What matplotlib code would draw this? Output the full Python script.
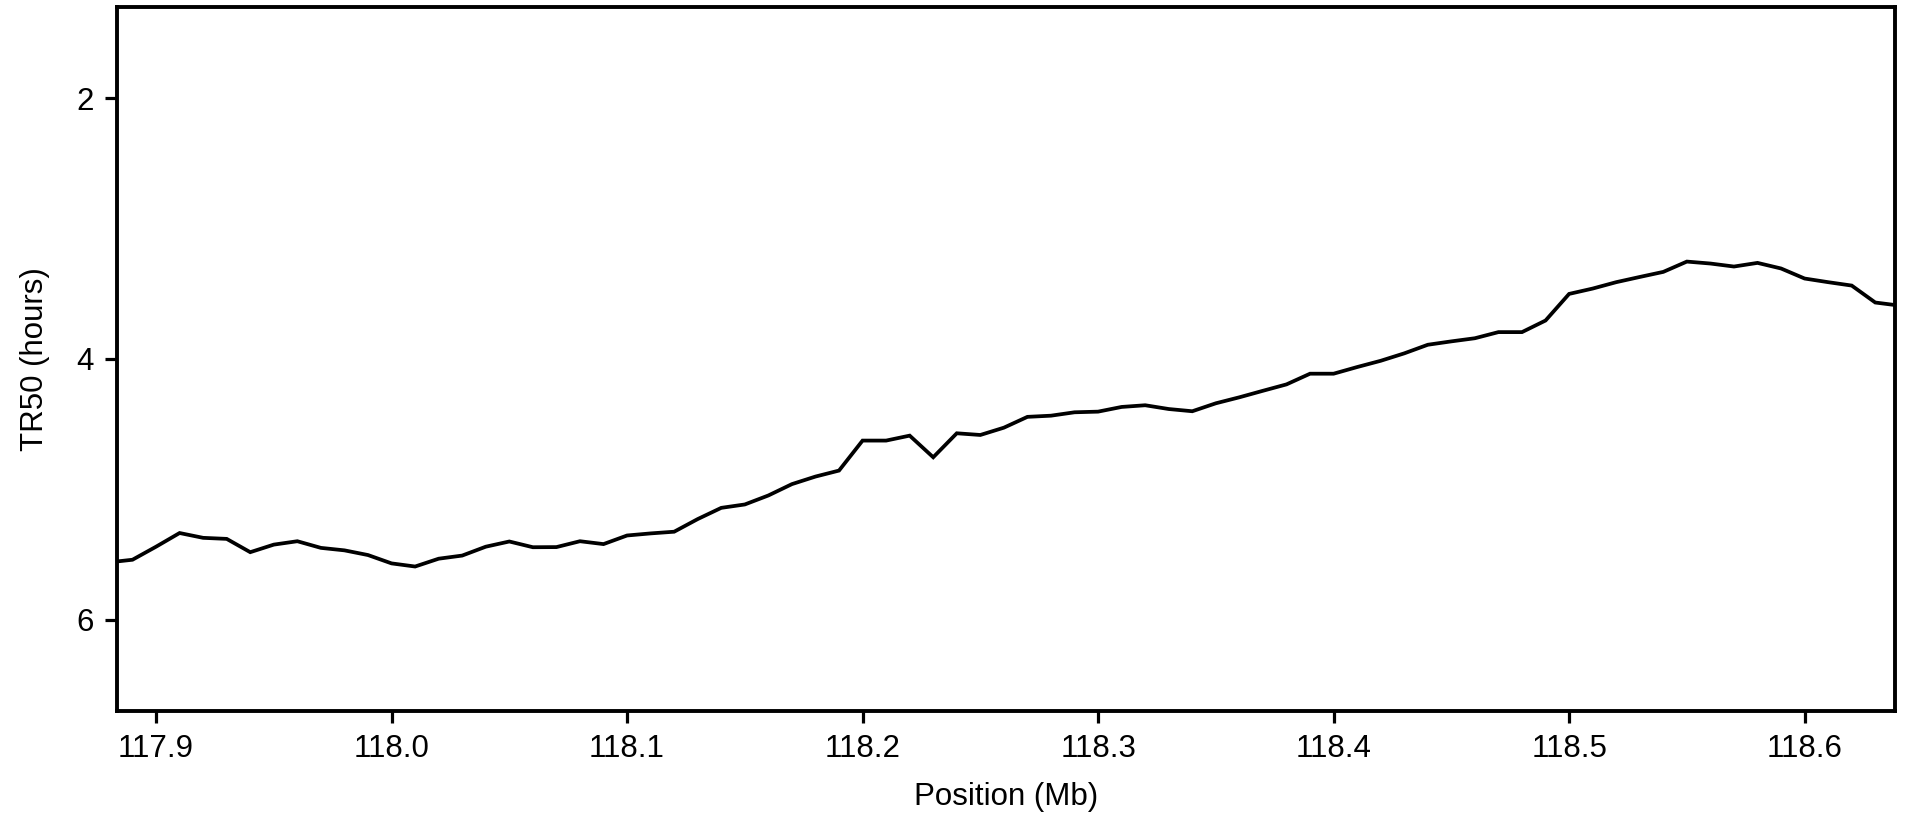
import matplotlib
matplotlib.use("Agg")
import matplotlib.pyplot as plt

plt.rcParams['font.family'] = ['Liberation Sans', 'DejaVu Sans']

# position along the chromosome (Mb)
position = [117.88, 117.89, 117.90, 117.91, 117.92, 117.93, 117.94, 117.95,
            117.96, 117.97, 117.98, 117.99, 118.00, 118.01, 118.02, 118.03,
            118.04, 118.05, 118.06, 118.07, 118.08, 118.09, 118.10, 118.11,
            118.12, 118.13, 118.14, 118.15, 118.16, 118.17, 118.18, 118.19,
            118.20, 118.21, 118.22, 118.23, 118.24, 118.25, 118.26, 118.27,
            118.28, 118.29, 118.30, 118.31, 118.32, 118.33, 118.34, 118.35,
            118.36, 118.37, 118.38, 118.39, 118.40, 118.41, 118.42, 118.43,
            118.44, 118.45, 118.46, 118.47, 118.48, 118.49, 118.50, 118.51,
            118.52, 118.53, 118.54, 118.55, 118.56, 118.57, 118.58, 118.59,
            118.60, 118.61, 118.62, 118.63, 118.64]

# replication timing (hours)
tr50 = [5.56, 5.54, 5.44, 5.335, 5.372, 5.38, 5.482, 5.424,
        5.398, 5.449, 5.468, 5.504, 5.568, 5.592, 5.532, 5.508,
        5.44, 5.40, 5.444, 5.443, 5.398, 5.42, 5.354, 5.338,
        5.325, 5.228, 5.142, 5.116, 5.047, 4.960, 4.902, 4.856,
        4.626, 4.626, 4.588, 4.754, 4.570, 4.583, 4.527, 4.444,
        4.435, 4.409, 4.404, 4.368, 4.355, 4.384, 4.401, 4.340,
        4.294, 4.244, 4.195, 4.113, 4.113, 4.062, 4.014, 3.957,
        3.891, 3.865, 3.841, 3.794, 3.794, 3.705, 3.501, 3.460,
        3.411, 3.371, 3.332, 3.253, 3.268, 3.291, 3.263, 3.306,
        3.383, 3.411, 3.437, 3.567, 3.59]

x_ticks = [117.9, 118.0, 118.1, 118.2, 118.3, 118.4, 118.5, 118.6]
x_labels = ["117.9", "118.0", "118.1", "118.2", "118.3", "118.4", "118.5", "118.6"]
y_ticks = [2, 4, 6]

fig = plt.figure(figsize=(19.14, 8.19), dpi=100)
ax = fig.add_axes([0.0611, 0.1319, 0.9290, 0.8596])

ax.plot(position, tr50, color='black', linewidth=2.7, solid_joinstyle='miter')

ax.set_xlim(117.8834, 118.6384)
ax.set_ylim(6.7, 1.3)  # reversed axis, early at top
ax.set_xticks(x_ticks)
ax.set_xticklabels(x_labels)
ax.set_yticks(y_ticks)

for side in ax.spines.values():
    side.set_linewidth(2.8)
ax.tick_params(direction='out', length=8.6, width=2.3, labelsize=22.5, pad=8,
               colors='black')

ax.set_xlabel("Position (Mb)", fontsize=22.5, labelpad=13)
ax.set_ylabel("TR50 (hours)", fontsize=22.5, labelpad=19)

plt.savefig("out.png", dpi=100)
